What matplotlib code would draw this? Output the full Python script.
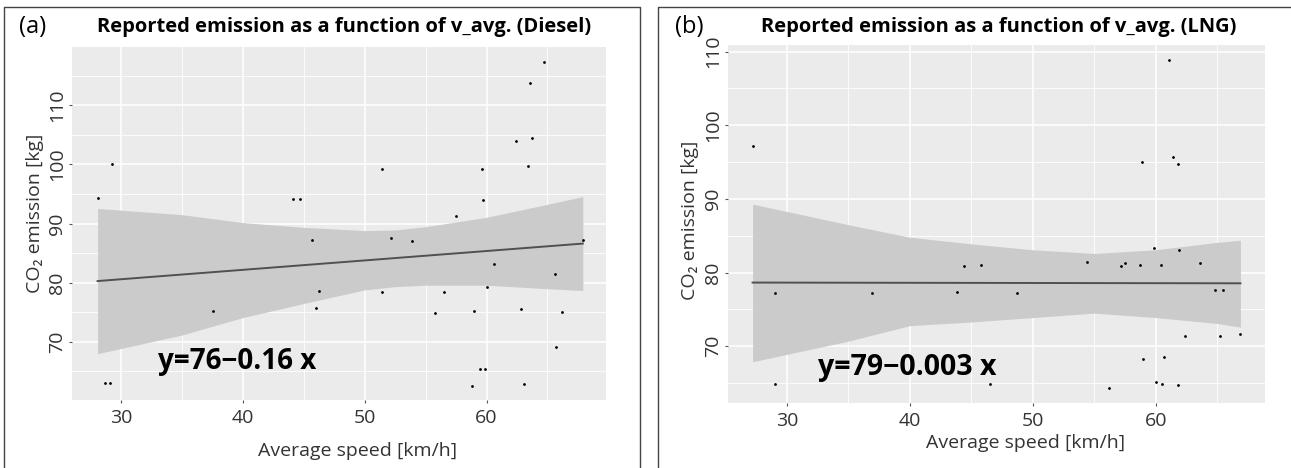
#!/usr/bin/env python3
import numpy as np
import matplotlib
matplotlib.use("Agg")
import matplotlib.pyplot as plt
from matplotlib.ticker import MultipleLocator

# ===== Data =====
# (a) Diesel
diesel_speed = [28.1, 28.7, 29.1, 29.3, 37.6, 44.1, 44.7, 45.7, 46.3, 46.0,
                51.4, 51.4, 52.2, 53.9, 55.8, 56.5, 57.5, 58.8, 59.0, 59.6,
                59.7, 59.5, 59.9, 60.0, 60.6, 62.4, 62.8, 63.1, 63.4, 63.6,
                63.7, 64.7, 65.6, 65.7, 66.2, 67.9]
diesel_co2 = [94.3, 63.0, 63.0, 100.0, 75.2, 94.2, 94.2, 87.2, 78.5, 75.7,
              99.3, 78.4, 87.5, 87.1, 74.9, 78.4, 91.3, 62.5, 75.2, 99.3,
              94.0, 65.4, 65.4, 79.2, 83.1, 104.0, 75.5, 62.8, 99.8, 113.8,
              104.4, 117.3, 81.4, 69.1, 75.0, 87.2]
diesel_fit_x = [28.1, 67.9]
diesel_fit_y = [80.25, 86.6]
diesel_band_x = [28.1, 35, 40, 45, 50, 52.5, 55, 60, 65, 67.9]
diesel_band_hi = [92.55, 91.5, 90.15, 89.35, 88.8, 88.9, 89.45, 91.05, 93.25, 94.55]
diesel_band_lo = [67.95, 71.1, 74.05, 76.45, 78.75, 79.3, 79.55, 79.55, 78.95, 78.65]

# (b) LNG
lng_speed = [27.2, 29.0, 29.0, 36.9, 43.8, 44.4, 45.8, 46.5, 48.7, 54.4,
             56.2, 57.2, 57.5, 58.7, 58.9, 59.0, 59.9, 60.0, 60.4, 60.5,
             60.7, 61.1, 61.4, 61.8, 61.8, 61.9, 62.4, 63.6, 64.8, 65.5,
             65.2, 66.9]
lng_co2 = [97.2, 77.2, 64.9, 77.3, 77.4, 80.9, 81.0, 64.9, 77.3, 81.4,
           64.4, 80.9, 81.3, 81.0, 95.0, 68.3, 83.3, 65.1, 81.1, 64.9,
           68.5, 108.9, 95.7, 94.8, 64.8, 83.1, 71.4, 81.3, 77.6, 77.7,
           71.4, 71.6]
lng_fit_x = [27.2, 66.9]
lng_fit_y = [78.65, 78.55]
lng_band_x = [27.2, 35, 40, 45, 50, 55, 60, 65, 66.9]
lng_band_hi = [89.3, 86.5, 84.8, 83.9, 83.1, 82.6, 83.1, 84.1, 84.4]
lng_band_lo = [67.9, 70.7, 72.8, 73.3, 73.9, 74.5, 73.9, 73.1, 72.6]
# =======================================

FONT = ["Open Sans", "DejaVu Sans"]
plt.rcParams["font.family"] = FONT

W, H = 1291, 468
fig = plt.figure(figsize=(W / 100, H / 100), dpi=100)


def px_box(left, top, right, bottom):
    return [left / W, 1 - bottom / H, (right - left) / W, (bottom - top) / H]


def panel(rect, xs, ys, fx, fy, bx, blo, bhi, xlim, ylim):
    ax = fig.add_axes(rect)
    ax.set_facecolor("#EBEBEB")
    for s in ax.spines.values():
        s.set_visible(False)
    ax.xaxis.set_major_locator(MultipleLocator(10))
    ax.xaxis.set_minor_locator(MultipleLocator(5))
    ax.yaxis.set_major_locator(MultipleLocator(10))
    ax.yaxis.set_minor_locator(MultipleLocator(5))
    ax.grid(which="major", color="white", lw=1.1)
    ax.grid(which="minor", color="white", lw=0.6)
    ax.set_axisbelow(True)
    ax.tick_params(which="minor", length=0)
    ax.tick_params(which="major", length=2.5, color="#555555",
                   labelsize=14, labelcolor="#333333", pad=4)
    ax.tick_params(axis="y", labelrotation=90, pad=2)

    ax.fill_between(bx, blo, bhi, color="#CBCBCB", lw=0, zorder=2)
    ax.plot(fx, fy, color="#505050", lw=1.4, zorder=3)
    ax.scatter(xs, ys, s=4, color="black", zorder=4, linewidths=0)
    ax.set_xlim(*xlim)
    ax.set_ylim(*ylim)
    return ax


ax1 = panel(px_box(72, 47, 606, 400), diesel_speed, diesel_co2,
            diesel_fit_x, diesel_fit_y, diesel_band_x, diesel_band_lo,
            diesel_band_hi, (26.0, 69.8), (60.1, 119.9))
ax2 = panel(px_box(728, 45, 1265, 403), lng_speed, lng_co2,
            lng_fit_x, lng_fit_y, lng_band_x, lng_band_lo,
            lng_band_hi, (25.2, 68.9), (62.3, 110.9))

for ax in (ax1, ax2):
    for lab in ax.get_yticklabels():
        lab.set_va("center")

# equations
ax1.text(0.161, 0.108, "y=76\u22120.16 x", transform=ax1.transAxes,
         fontsize=20, fontweight="bold", ha="left", va="center")
ax2.text(0.168, 0.098, "y=79\u22120.003 x", transform=ax2.transAxes,
         fontsize=20.5, fontweight="bold", ha="left", va="center")

# titles, panel letters, axis labels (figure pixel coordinates)
def ftext(x, y, s, **kw):
    fig.text(x / W, 1 - y / H, s, **kw)

ftext(19, 27, "(a)", fontsize=17, ha="left", va="center")
ftext(344, 27, "Reported emission as a function of v_avg. (Diesel)",
      fontsize=14.5, fontweight="bold", ha="center", va="center")
ftext(675, 27, "(b)", fontsize=17, ha="left", va="center")
ftext(999, 27, "Reported emission as a function of v_avg. (LNG)",
      fontsize=14.5, fontweight="bold", ha="center", va="center")

ftext(358, 451, "Average speed [km/h]", fontsize=14, color="#333333",
      ha="center", va="center")
ftext(1026, 443, "Average speed [km/h]", fontsize=14, color="#333333",
      ha="center", va="center")
ftext(35, 213, "CO\u2082 emission [kg]", fontsize=14, color="#333333",
      rotation=90, ha="center", va="center")
ftext(690, 220, "CO\u2082 emission [kg]", fontsize=14, color="#333333",
      rotation=90, ha="center", va="center")

# framing boxes round each panel
for x0, x1 in ((4, 640), (658, 1295)):
    fig.add_artist(plt.Line2D([x0 / W, x0 / W, x1 / W, x1 / W],
                              [0, 1 - 7 / H, 1 - 7 / H, 0],
                              color="#444444", lw=1.0))

fig.savefig("out.png", dpi=100)
